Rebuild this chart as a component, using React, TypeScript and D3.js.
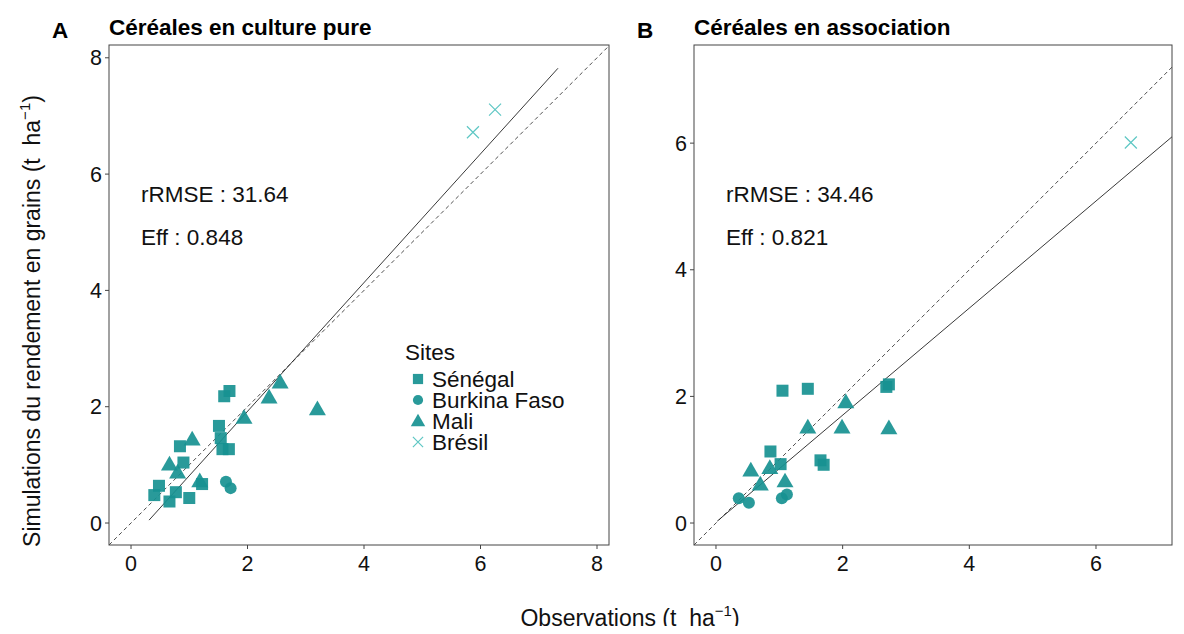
import React from 'react';
import * as d3 from 'd3';

// Site order used for legend and shapes
const sites = ['Sénégal', 'Burkina Faso', 'Mali', 'Brésil'];

// Panel A : céréales en culture pure  [obs, sim]
const pureSenegal = [
  [1.69, 2.27], [1.60, 2.18], [1.51, 1.67], [1.54, 1.46], [1.57, 1.27], [1.68, 1.27],
  [0.84, 1.32], [0.90, 1.04], [0.48, 0.64], [0.40, 0.48], [0.66, 0.37], [0.77, 0.53],
  [1.00, 0.43], [1.22, 0.67],
];
const pureBurkina = [[1.63, 0.71], [1.71, 0.60]];
const pureMali = [
  [1.05, 1.44], [0.66, 1.01], [0.80, 0.87], [1.18, 0.72], [2.56, 2.42], [2.37, 2.16],
  [1.94, 1.81], [3.20, 1.96],
];
const pureBresil = [[6.25, 7.11], [5.87, 6.72]];
const pureFit = [[0.31, 0.05], [7.33, 7.82]];

// Panel B : céréales en association
const assoSenegal = [
  [1.05, 2.09], [1.45, 2.12], [0.86, 1.13], [1.02, 0.93], [2.69, 2.15], [2.73, 2.19],
  [1.65, 0.99], [1.70, 0.92],
];
const assoBurkina = [[0.36, 0.39], [0.52, 0.32], [1.04, 0.39], [1.12, 0.45]];
const assoMali = [
  [0.55, 0.83], [0.85, 0.87], [0.70, 0.61], [1.09, 0.66], [1.45, 1.51], [2.05, 1.91],
  [1.99, 1.51], [2.73, 1.50],
];
const assoBresil = [[6.55, 6.01]];
const assoFit = [[0.02, 0.03], [7.2, 6.1]];

const xTicksA = [0, 2, 4, 6, 8];
const yTicksA = [0, 2, 4, 6, 8];
const xTicksB = [0, 2, 4, 6];
const yTicksB = [0, 2, 4, 6];

const teal = '#179191';
const tealLight = '#5ec7c4';
const font = 'Liberation Sans, Arial, sans-serif';
const fs = 22.5;

function Marker({ site, x, y, s = 1 }) {
  if (site === 0) {
    const h = 6 * s;
    return <rect x={x - h} y={y - h} width={2 * h} height={2 * h} fill={teal} fillOpacity={0.92} />;
  }
  if (site === 1) {
    return <circle cx={x} cy={y} r={6 * s} fill={teal} fillOpacity={0.92} />;
  }
  if (site === 2) {
    const sym = d3.symbol(d3.symbolTriangle, 125 * s * s)();
    return <path d={sym} transform={`translate(${x},${y + 1.2 * s})`} fill={teal} fillOpacity={0.92} />;
  }
  const h = 6 * s;
  return (
    <path d={`M${x - h},${y - h}L${x + h},${y + h}M${x - h},${y + h}L${x + h},${y - h}`}
      stroke={tealLight} strokeWidth={1.2} fill="none" />
  );
}

function Panel({ box, xDom, yDom, xTicks, yTicks, groups, fit, letter, title, rrmse, eff, clipId }) {
  const x = d3.scaleLinear().domain(xDom).range([box.l, box.r]);
  const y = d3.scaleLinear().domain(yDom).range([box.b, box.t]);
  const line = d3.line().x(d => x(d[0])).y(d => y(d[1]));
  const lo = Math.min(xDom[0], yDom[0]);
  const hi = Math.max(xDom[1], yDom[1]);
  return (
    <g>
      <defs>
        <clipPath id={clipId}>
          <rect x={box.l} y={box.t} width={box.r - box.l} height={box.b - box.t} />
        </clipPath>
      </defs>
      <text x={box.l - 57} y={38} fontFamily={font} fontWeight="bold" fontSize={fs}>{letter}</text>
      <text x={box.l} y={35} fontFamily={font} fontWeight="bold" fontSize={fs}>{title}</text>
      <g clipPath={`url(#${clipId})`}>
        <path d={line([[lo, lo], [hi, hi]])} stroke="#222" strokeWidth={0.8} strokeDasharray="4,3" fill="none" />
        <path d={line(fit)} stroke="#222" strokeWidth={0.9} fill="none" />
        {groups.map((g, si) => g.map((p, i) => (
          <Marker key={`${si}-${i}`} site={si} x={x(p[0])} y={y(p[1])} />
        )))}
      </g>
      <rect x={box.l} y={box.t} width={box.r - box.l} height={box.b - box.t} fill="none" stroke="#444" strokeWidth={1} />
      {xTicks.map(t => (
        <g key={'x' + t}>
          <line x1={x(t)} x2={x(t)} y1={box.b} y2={box.b + 4} stroke="#444" />
          <text x={x(t)} y={box.b + 26} textAnchor="middle" fontFamily={font} fontSize={21.5} fill="#111">{t}</text>
        </g>
      ))}
      {yTicks.map(t => (
        <g key={'y' + t}>
          <line x1={box.l - 4} x2={box.l} y1={y(t)} y2={y(t)} stroke="#444" />
          <text x={box.l - 7} y={y(t) + 7.5} textAnchor="end" fontFamily={font} fontSize={21.5} fill="#111">{t}</text>
        </g>
      ))}
      <text x={box.l + 32} y={202} fontFamily={font} fontSize={fs} fill="#111">rRMSE : {rrmse}</text>
      <text x={box.l + 32} y={245} fontFamily={font} fontSize={fs} fill="#111">Eff : {eff}</text>
    </g>
  );
}

export default function App() {
  const boxA = { l: 109, r: 609, t: 45, b: 545 };
  const boxB = { l: 694, r: 1172, t: 45, b: 545 };
  return (
    <svg width={1184} height={634} style={{ display: 'block', margin: '-8px' }}>
      <rect width={1184} height={634} fill="#fff" />
      <Panel box={boxA} xDom={[-0.378, 8.206]} yDom={[-0.378, 8.22]} xTicks={xTicksA} yTicks={yTicksA}
        groups={[pureSenegal, pureBurkina, pureMali, pureBresil]} fit={pureFit}
        letter="A" title="Céréales en culture pure" rrmse="31.64" eff="0.848" clipId="clipA" />
      <Panel box={boxB} xDom={[-0.347, 7.2]} yDom={[-0.347, 7.55]} xTicks={xTicksB} yTicks={yTicksB}
        groups={[assoSenegal, assoBurkina, assoMali, assoBresil]} fit={assoFit}
        letter="B" title="Céréales en association" rrmse="34.46" eff="0.821" clipId="clipB" />
      <g fontFamily={font} fontSize={fs} fill="#111">
        <text x={405} y={360}>Sites</text>
        {sites.map((s, i) => (
          <g key={s}>
            <Marker site={i} x={418} y={379 + i * 21} s={0.85} />
            <text x={432} y={387 + i * 21}>{s}</text>
          </g>
        ))}
      </g>
      <text x={630} y={626} textAnchor="middle" fontFamily={font} fontSize={23} fill="#111">
        {'Observations (t\u00a0\u00a0ha'}<tspan dy={-10} fontSize={15}>−1</tspan><tspan dy={10}>)</tspan>
      </text>
      <text transform="translate(40,321) rotate(-90)" textAnchor="middle" fontFamily={font} fontSize={23} fill="#111">
        {'Simulations du rendement en grains (t\u00a0\u00a0ha'}<tspan dy={-10} fontSize={15}>−1</tspan><tspan dy={10}>)</tspan>
      </text>
    </svg>
  );
}
